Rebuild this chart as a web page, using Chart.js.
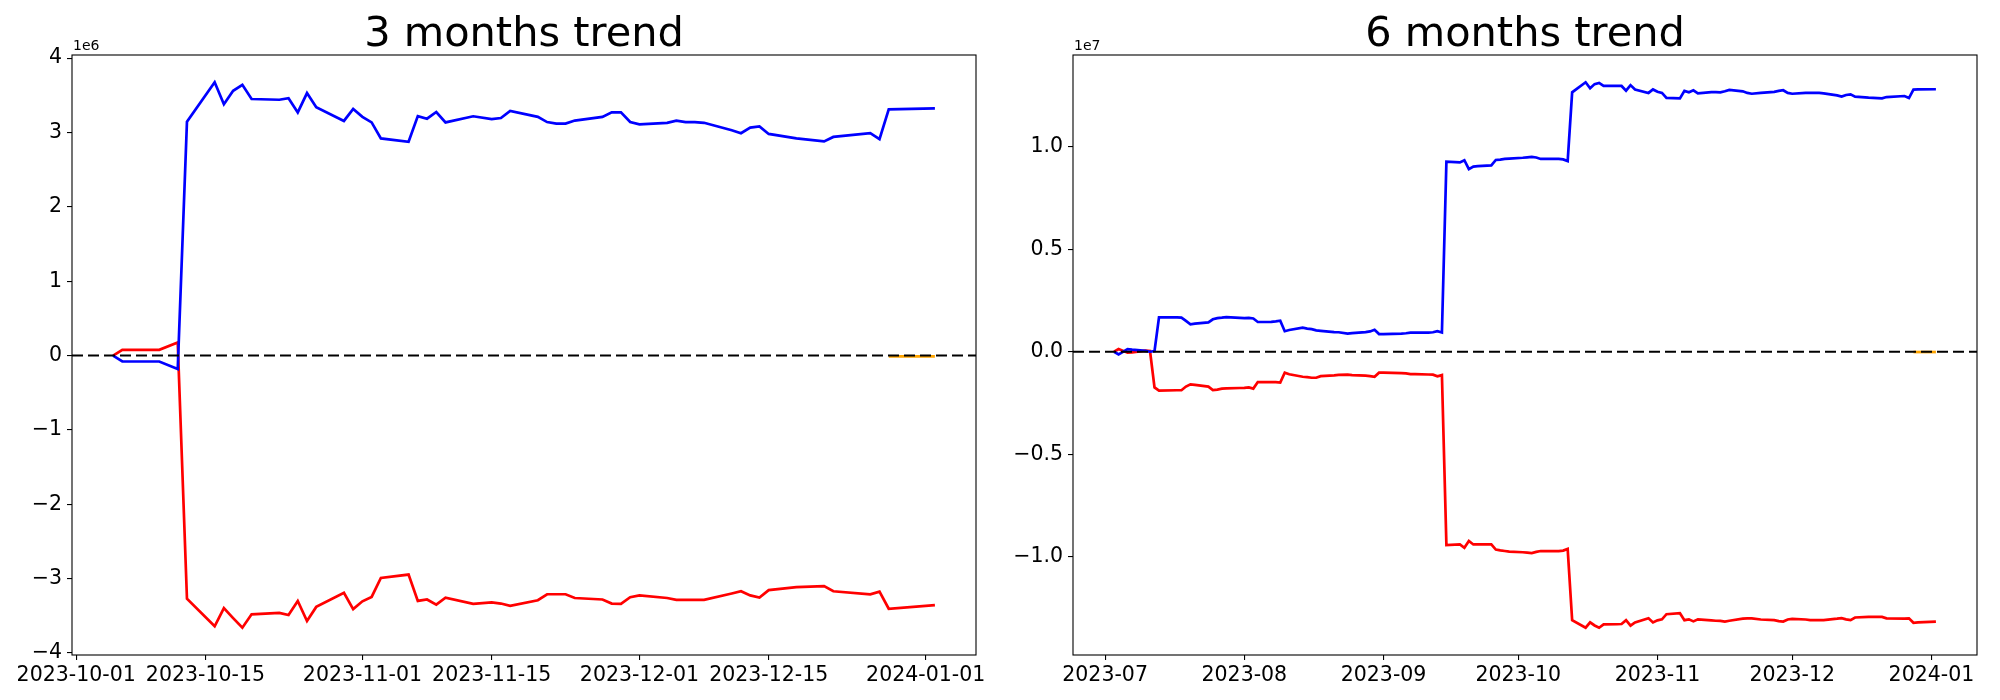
<!DOCTYPE html>
<html>
<head>
<meta charset="utf-8">
<script src="https://cdn.jsdelivr.net/npm/chart.js@4.4.0/dist/chart.umd.min.js"></script>
<style>
  body { margin: 0; background: #fff; }
  .wrap { position: relative; width: 2000px; height: 700px; }
  canvas { position: absolute; top: 0; }
</style>
</head>
<body>
<div class="wrap">
  <canvas id="chart3m" width="1000" height="700" style="left:0"></canvas>
  <canvas id="chart6m" width="1000" height="700" style="left:1000px"></canvas>
</div>
<script>
// ---- 3 months (values in 1e6) ----
const dates3m = [
  '2023-10-05','2023-10-06','2023-10-10','2023-10-12','2023-10-13','2023-10-16','2023-10-17','2023-10-18',
  '2023-10-19','2023-10-20','2023-10-23','2023-10-24','2023-10-25','2023-10-26','2023-10-27','2023-10-30','2023-10-31',
  '2023-11-01','2023-11-02','2023-11-03','2023-11-06','2023-11-07','2023-11-08','2023-11-09','2023-11-10',
  '2023-11-13','2023-11-15','2023-11-16','2023-11-17','2023-11-20','2023-11-21','2023-11-22','2023-11-23',
  '2023-11-24','2023-11-27','2023-11-28','2023-11-29','2023-11-30',
  '2023-12-01','2023-12-04','2023-12-05','2023-12-06','2023-12-07','2023-12-08','2023-12-11','2023-12-12',
  '2023-12-13','2023-12-14','2023-12-15','2023-12-18','2023-12-21','2023-12-22','2023-12-26','2023-12-27','2023-12-28',
  '2024-01-02'
];
const blue3m = [
  0, -0.08, -0.08, -0.18, 3.145, 3.675, 3.38, 3.56, 3.64, 3.45, 3.44, 3.46, 3.27, 3.53, 3.34, 3.155, 3.315,
  3.21, 3.135, 2.92, 2.875, 3.22, 3.185, 3.275, 3.135, 3.218, 3.18, 3.195, 3.29, 3.21, 3.14, 3.12, 3.12, 3.16, 3.21, 3.27, 3.27, 3.14,
  3.11, 3.13, 3.16, 3.14, 3.14, 3.13, 3.03, 2.99, 3.065, 3.08, 2.98, 2.92, 2.88, 2.94, 2.99, 2.91, 3.31,
  3.325
];
const red3m = [
  0, 0.077, 0.077, 0.175, -3.27, -3.64, -3.395, -3.53, -3.66, -3.48, -3.46, -3.49, -3.30, -3.57, -3.38, -3.19, -3.41,
  -3.305, -3.245, -2.99, -2.945, -3.30, -3.28, -3.35, -3.257, -3.34, -3.32, -3.335, -3.365, -3.29, -3.21, -3.21, -3.21, -3.26, -3.28, -3.335, -3.34, -3.25,
  -3.225, -3.26, -3.285, -3.285, -3.285, -3.285, -3.20, -3.17, -3.225, -3.255, -3.155, -3.115, -3.10, -3.17, -3.21, -3.175, -3.405,
  -3.355
];
const orangeDates3m = ['2023-12-28', '2024-01-02'];
const orange3m = [-0.01, -0.012];
const xTicks3m = ['2023-10-01','2023-10-15','2023-11-01','2023-11-15','2023-12-01','2023-12-15','2024-01-01'];
const xLabels3m = ['2023-10-01','2023-10-15','2023-11-01','2023-11-15','2023-12-01','2023-12-15','2024-01-01'];
const yTicks3m = [-4, -3, -2, -1, 0, 1, 2, 3, 4];
const yLabels3m = ['\u22124','\u22123','\u22122','\u22121','0','1','2','3','4'];

// ---- 6 months (values in 1e7) ----
const dates6m = [
  '2023-07-03','2023-07-04','2023-07-06','2023-07-07','2023-07-10','2023-07-11','2023-07-12','2023-07-13','2023-07-17','2023-07-18',
  '2023-07-19','2023-07-20','2023-07-21','2023-07-24','2023-07-25','2023-07-26','2023-07-27','2023-07-28','2023-07-31',
  '2023-08-01','2023-08-02','2023-08-03','2023-08-04','2023-08-07','2023-08-08','2023-08-09','2023-08-10','2023-08-11','2023-08-14',
  '2023-08-15','2023-08-16','2023-08-17','2023-08-18','2023-08-21','2023-08-22','2023-08-24','2023-08-25','2023-08-28','2023-08-29',
  '2023-08-30','2023-08-31',
  '2023-09-01','2023-09-05','2023-09-06','2023-09-07','2023-09-08','2023-09-11','2023-09-12','2023-09-13','2023-09-14','2023-09-15',
  '2023-09-18','2023-09-19','2023-09-20','2023-09-21','2023-09-22','2023-09-25','2023-09-26','2023-09-27','2023-09-28','2023-09-29',
  '2023-10-02','2023-10-03','2023-10-04','2023-10-05','2023-10-06','2023-10-09','2023-10-10','2023-10-11','2023-10-12','2023-10-13',
  '2023-10-16','2023-10-17','2023-10-18','2023-10-19','2023-10-20','2023-10-23','2023-10-24','2023-10-25','2023-10-26','2023-10-27',
  '2023-10-30','2023-10-31',
  '2023-11-01','2023-11-02','2023-11-03','2023-11-06','2023-11-07','2023-11-08','2023-11-09','2023-11-10','2023-11-13','2023-11-14',
  '2023-11-15','2023-11-16','2023-11-17','2023-11-20','2023-11-21','2023-11-22','2023-11-24','2023-11-27','2023-11-28','2023-11-29',
  '2023-11-30',
  '2023-12-01','2023-12-04','2023-12-05','2023-12-06','2023-12-07','2023-12-08','2023-12-11','2023-12-12','2023-12-13','2023-12-14',
  '2023-12-15','2023-12-18','2023-12-19','2023-12-20','2023-12-21','2023-12-22','2023-12-26','2023-12-27','2023-12-28','2023-12-29',
  '2024-01-02'
];
const blue6m = [
  0, -0.013, 0.013, 0.010, 0.004, 0.000, 0.003, 0.168, 0.167, 0.166, 0.150, 0.134, 0.137, 0.143, 0.158, 0.164, 0.166, 0.169, 0.165,
  0.164, 0.165, 0.162, 0.145, 0.146, 0.148, 0.151, 0.100, 0.106, 0.117, 0.113, 0.110, 0.104, 0.102, 0.096, 0.095, 0.088, 0.091, 0.096, 0.099, 0.107, 0.086,
  0.086, 0.088, 0.090, 0.093, 0.093, 0.093, 0.095, 0.100, 0.094, 0.927, 0.923, 0.934, 0.890, 0.903, 0.905, 0.909, 0.935, 0.937, 0.940, 0.942,
  0.946, 0.948, 0.950, 0.947, 0.940, 0.940, 0.940, 0.938, 0.930, 1.265, 1.314, 1.285, 1.305, 1.311, 1.296, 1.296, 1.296, 1.273, 1.300, 1.279, 1.262, 1.279,
  1.268, 1.262, 1.238, 1.235, 1.272, 1.265, 1.275, 1.260, 1.266, 1.266, 1.265, 1.270, 1.277, 1.270, 1.262, 1.258, 1.262, 1.267, 1.272, 1.275, 1.262,
  1.258, 1.262, 1.263, 1.262, 1.262, 1.260, 1.250, 1.244, 1.252, 1.255, 1.244, 1.239, 1.238, 1.237, 1.236, 1.242, 1.247, 1.237, 1.278, 1.279,
  1.280
];
const red6m = [
  0, 0.013, -0.005, -0.003, 0.005, 0.003, -0.174, -0.190, -0.188, -0.188, -0.170, -0.159, -0.162, -0.170, -0.187, -0.185, -0.180, -0.179, -0.177,
  -0.176, -0.174, -0.180, -0.148, -0.148, -0.148, -0.150, -0.102, -0.110, -0.122, -0.124, -0.127, -0.127, -0.119, -0.115, -0.113, -0.112, -0.114, -0.117, -0.119, -0.122, -0.102,
  -0.102, -0.104, -0.106, -0.109, -0.109, -0.111, -0.112, -0.120, -0.114, -0.943, -0.940, -0.956, -0.923, -0.940, -0.940, -0.940, -0.965, -0.969, -0.972, -0.975,
  -0.978, -0.980, -0.982, -0.976, -0.972, -0.972, -0.972, -0.970, -0.962, -1.309, -1.346, -1.320, -1.335, -1.346, -1.330, -1.329, -1.328, -1.309, -1.336, -1.320, -1.300, -1.320,
  -1.310, -1.305, -1.280, -1.275, -1.309, -1.305, -1.315, -1.305, -1.310, -1.312, -1.313, -1.316, -1.312, -1.302, -1.300, -1.300, -1.306, -1.309, -1.314, -1.316, -1.306,
  -1.303, -1.306, -1.309, -1.309, -1.309, -1.309, -1.302, -1.299, -1.305, -1.309, -1.296, -1.293, -1.293, -1.293, -1.293, -1.300, -1.302, -1.300, -1.322, -1.320,
  -1.316
];
const orangeDates6m = ['2023-12-28', '2024-01-02'];
const orange6m = [-0.0015, -0.0015];
const xTicks6m = ['2023-07-01','2023-08-01','2023-09-01','2023-10-01','2023-11-01','2023-12-01','2024-01-01'];
const xLabels6m = ['2023-07','2023-08','2023-09','2023-10','2023-11','2023-12','2024-01'];
const yTicks6m = [-1.0, -0.5, 0, 0.5, 1.0];
const yLabels6m = ['\u22121.0','\u22120.5','0.0','0.5','1.0'];

const FONT = "'DejaVu Sans', sans-serif";
Chart.defaults.color = '#000';
Chart.defaults.font.family = FONT;

const dayOf = s => Date.parse(s) / 86400000;

function series(dates, vals, unit, color) {
  return {
    data: dates.map((d, i) => ({ x: dayOf(d), y: vals[i] * unit })),
    borderColor: color,
    borderWidth: 2.7,
    pointRadius: 0,
    tension: 0,
    fill: false
  };
}

// title, offset text, zero line, frame
const decor = {
  id: 'decor',
  afterDatasetsDraw(chart, args, opts) {
    const { ctx, chartArea: a, scales } = chart;
    const y0 = scales.y.getPixelForValue(0);
    ctx.save();
    ctx.strokeStyle = '#000';
    ctx.lineWidth = 2;
    ctx.setLineDash([11, 5]);
    ctx.beginPath();
    ctx.moveTo(a.left, y0);
    ctx.lineTo(a.right, y0);
    ctx.stroke();
    ctx.setLineDash([]);
    ctx.lineWidth = 1.1;
    ctx.strokeRect(a.left, a.top, a.right - a.left, a.bottom - a.top);
    ctx.fillStyle = '#000';
    ctx.textBaseline = 'alphabetic';
    ctx.textAlign = 'center';
    ctx.font = '41.5px ' + FONT;
    ctx.fillText(opts.title, (a.left + a.right) / 2, 46);
    ctx.textAlign = 'left';
    ctx.font = '14px ' + FONT;
    ctx.fillText(opts.exp, a.left + 1, a.top - 5);
    ctx.restore();
  }
};

function trendChart(id, cfg) {
  const vals = [...cfg.blue, ...cfg.red, ...cfg.orange].map(v => v * cfg.unit);
  const ymin = Math.min(...vals), ymax = Math.max(...vals);
  const ypad = (ymax - ymin) * 0.05;
  const xs = cfg.dates.map(dayOf);
  const xmin = Math.min(...xs), xmax = Math.max(...xs);
  const xpad = (xmax - xmin) * 0.05;
  const tickFont = { family: FONT, size: 20.5 };

  return new Chart(document.getElementById(id), {
    type: 'line',
    data: {
      datasets: [
        series(cfg.dates, cfg.blue, cfg.unit, '#0000ff'),
        series(cfg.dates, cfg.red, cfg.unit, '#ff0000'),
        series(cfg.orangeDates, cfg.orange, cfg.unit, '#ffa500')
      ]
    },
    options: {
      responsive: false,
      animation: false,
      devicePixelRatio: 1,
      layout: { padding: { top: 55, right: cfg.padRight, left: 0, bottom: 0 } },
      plugins: {
        legend: { display: false },
        tooltip: { enabled: false },
        decor: { title: cfg.title, exp: cfg.exp }
      },
      scales: {
        x: {
          type: 'linear',
          min: xmin - xpad,
          max: xmax + xpad,
          afterBuildTicks: s => { s.ticks = cfg.xTicks.map(d => ({ value: dayOf(d) })); },
          afterFit: s => { s.height = 45; s.paddingLeft = 0; s.paddingRight = 0; },
          ticks: {
            autoSkip: false, maxRotation: 0, minRotation: 0, padding: 3,
            font: tickFont, color: '#000',
            callback: (v, i) => cfg.xLabels[i]
          },
          grid: { drawOnChartArea: false, drawTicks: true, tickLength: 5, color: '#000', lineWidth: 1.1 },
          border: { display: false }
        },
        y: {
          type: 'linear',
          min: ymin - ypad,
          max: ymax + ypad,
          afterBuildTicks: s => { s.ticks = cfg.yTicks.map(v => ({ value: v * cfg.unit })); },
          afterFit: s => { s.width = cfg.axisLeft; s.paddingTop = 0; s.paddingBottom = 0; },
          ticks: {
            padding: 5, font: tickFont, color: '#000',
            callback: (v, i) => cfg.yLabels[i]
          },
          grid: { drawOnChartArea: false, drawTicks: true, tickLength: 5, color: '#000', lineWidth: 1.1 },
          border: { display: false }
        }
      }
    },
    plugins: [decor]
  });
}

trendChart('chart3m', {
  title: '3 months trend', exp: '1e6', unit: 1e6,
  dates: dates3m, blue: blue3m, red: red3m,
  orangeDates: orangeDates3m, orange: orange3m,
  xTicks: xTicks3m, xLabels: xLabels3m, yTicks: yTicks3m, yLabels: yLabels3m,
  axisLeft: 72, padRight: 24
});

trendChart('chart6m', {
  title: '6 months trend', exp: '1e7', unit: 1e7,
  dates: dates6m, blue: blue6m, red: red6m,
  orangeDates: orangeDates6m, orange: orange6m,
  xTicks: xTicks6m, xLabels: xLabels6m, yTicks: yTicks6m, yLabels: yLabels6m,
  axisLeft: 73, padRight: 23
});
</script>
</body>
</html>
